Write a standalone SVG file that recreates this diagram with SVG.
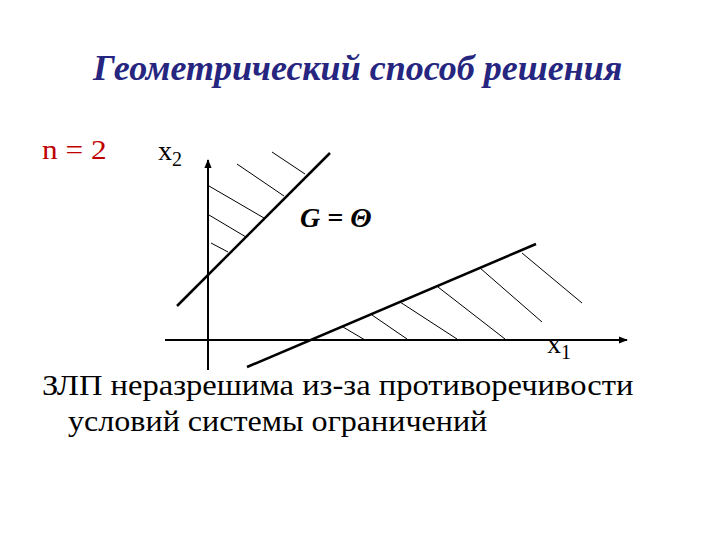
<svg xmlns="http://www.w3.org/2000/svg" width="720" height="540" viewBox="0 0 720 540">
<defs>
<marker id="arr" viewBox="0 0 10 10" refX="9" refY="5" markerWidth="9" markerHeight="9" orient="auto" markerUnits="userSpaceOnUse">
<path d="M0,1 L10,5 L0,9 Z" fill="#000"/>
</marker>
</defs>
<rect width="720" height="540" fill="#fff"/>
<g id="title"><text x="93" y="80" font-family="Liberation Serif" font-size="36" font-weight="bold" font-style="italic" fill="#262680">Геометрический способ решения</text></g>
<g id="n"><text transform="translate(42,159) scale(1.12,1)" x="0" y="0" font-family="Liberation Serif" font-size="28" fill="#c00000">n = 2</text></g>
<g id="x2"><text x="158" y="160" font-family="Liberation Serif" font-size="28">x<tspan font-size="20" dy="6">2</tspan></text></g>
<g id="G"><text x="300" y="227" font-family="Liberation Serif" font-size="28" font-weight="bold" font-style="italic">G = Θ</text></g>
<g id="x1"><text x="547" y="353" font-family="Liberation Serif" font-size="28">x<tspan font-size="20" dy="6">1</tspan></text></g>
<g id="caption">
<text transform="translate(42,395) scale(1.085,1)" x="0" y="0" font-family="Liberation Serif" font-size="30">ЗЛП неразрешима из-за противоречивости</text>
<text transform="translate(68,431) scale(1.07,1)" x="0" y="0" font-family="Liberation Serif" font-size="30">условий системы ограничений</text>
</g>
<g id="connectors" fill="none" stroke="#000">
<g stroke-width="2">
<line x1="208" y1="370" x2="208" y2="160" marker-end="url(#arr)"/>
<line x1="165" y1="340" x2="627" y2="340" marker-end="url(#arr)"/>
</g>
<g stroke-width="2.5">
<line x1="177" y1="306" x2="330" y2="153"/>
<line x1="247" y1="367" x2="536" y2="244"/>
</g>
<g stroke-width="1">
<line x1="305" y1="174" x2="272" y2="152"/>
<line x1="284" y1="196" x2="237" y2="164"/>
<line x1="264" y1="218" x2="209" y2="186"/>
<line x1="246" y1="237" x2="209" y2="215"/>
<line x1="228" y1="252" x2="211" y2="243"/>
<line x1="522" y1="253" x2="582" y2="303"/>
<line x1="480" y1="268" x2="542" y2="322"/>
<line x1="438" y1="287" x2="505" y2="339"/>
<line x1="400" y1="302" x2="457" y2="339"/>
<line x1="372" y1="315" x2="407" y2="339"/>
<line x1="343" y1="327" x2="365" y2="340"/>
</g>
</g>
</svg>
